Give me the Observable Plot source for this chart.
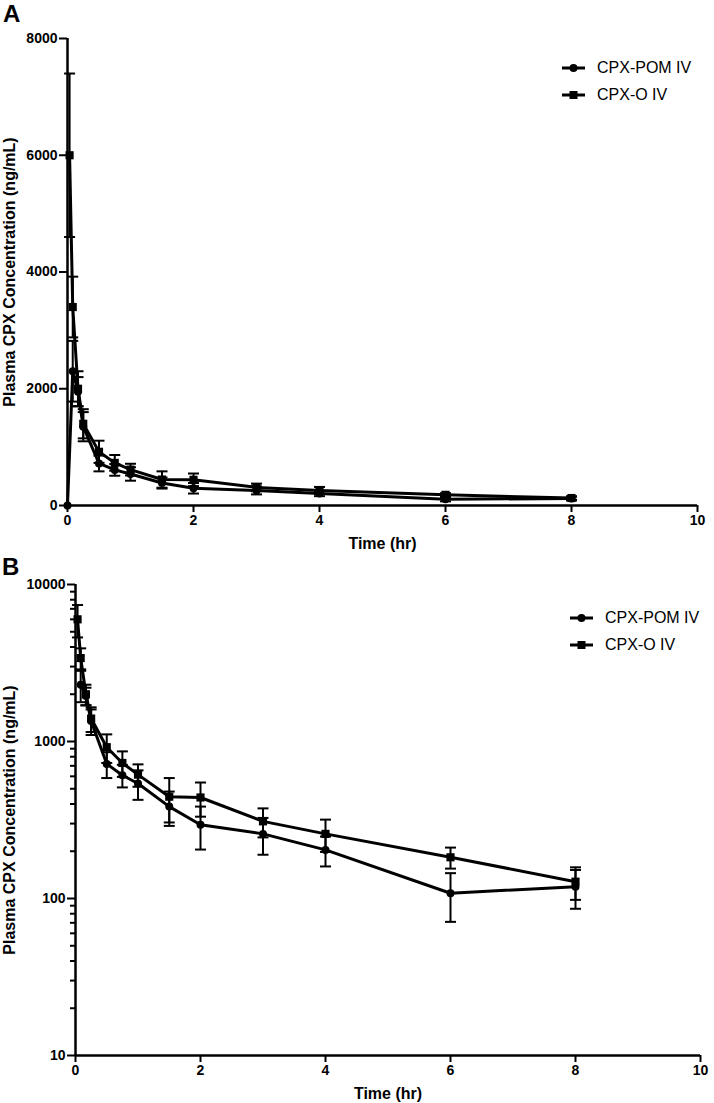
<!DOCTYPE html>
<html><head><meta charset="utf-8">
<script src="https://cdn.jsdelivr.net/npm/d3@7"></script>
<script src="https://cdn.jsdelivr.net/npm/@observablehq/plot@0.6"></script>
<style>
body{margin:0;background:#fff;}
#wrap{position:relative;width:714px;height:1103px;font-family:"Liberation Sans",Arial,Helvetica,sans-serif;color:#000;}
.letter{position:absolute;font-weight:bold;font-size:24px;line-height:1;}
.legend{position:absolute;font-size:16px;}
.legend .row{display:flex;align-items:center;height:27px;}
.legend svg{margin-right:12px;}
#wrap > svg{display:block;}
</style></head><body><div id="wrap"></div>
<script>
// ---- data ----
const seriesNames = ["CPX-POM IV", "CPX-O IV"];
const timesPOM = [0, 0.083, 0.167, 0.25, 0.5, 0.75, 1, 1.5, 2, 3, 4, 6, 8];
const meanPOM  = [0, 2300, 1950, 1350, 720, 610, 540, 385, 295, 258, 204, 108, 119];
const semPOM   = [0, 520, 250, 250, 135, 100, 115, 95, 90, 68, 44, 37, 33];
const timesO   = [0.033, 0.083, 0.167, 0.25, 0.5, 0.75, 1, 1.5, 2, 3, 4, 6, 8];
const meanO    = [6000, 3400, 2000, 1400, 920, 730, 615, 445, 440, 310, 258, 183, 128];
const semO     = [1400, 520, 300, 250, 190, 135, 100, 140, 108, 65, 60, 28, 30];
const xTicks = [0, 2, 4, 6, 8, 10];
const yTicksLin = [0, 2000, 4000, 6000, 8000];
const yTicksLog = [10, 100, 1000, 10000];
const yMinorLog = [20,30,40,50,60,70,80,90,200,300,400,500,600,700,800,900,2000,3000,4000,5000,6000,7000,8000,9000];
const xLabel = "Time (hr)";
const yLabel = "Plasma CPX Concentration (ng/mL)";

const rows = [];
timesPOM.forEach((t, i) => rows.push({series: seriesNames[0], t, mean: meanPOM[i], lo: meanPOM[i] - semPOM[i], hi: meanPOM[i] + semPOM[i]}));
timesO.forEach((t, i) => rows.push({series: seriesNames[1], t, mean: meanO[i], lo: meanO[i] - semO[i], hi: meanO[i] + semO[i]}));

const capSymbol = {draw(ctx, size) { const w = Math.sqrt(size / Math.PI); ctx.moveTo(-w, 0); ctx.lineTo(w, 0); }};
const font = {fontFamily: "Liberation Sans, Arial, Helvetica, sans-serif", fontSize: "14px", fontWeight: "bold", color: "black", background: "white", overflow: "visible"};

function makePanel({data, yType, yDomain, yTicks, minor, height, mt, mb, ml, mr}) {
  const pom = data.filter(d => d.series === seriesNames[0]);
  const cpo = data.filter(d => d.series === seriesNames[1]);
  const marks = [
    Plot.ruleX(data, {x: "t", y1: "lo", y2: "hi", strokeWidth: 2, filter: d => d.hi > d.lo}),
    Plot.dot(data, {x: "t", y: "lo", symbol: capSymbol, r: 5.5, stroke: "black", strokeWidth: 2, filter: d => d.hi > d.lo}),
    Plot.dot(data, {x: "t", y: "hi", symbol: capSymbol, r: 5.5, stroke: "black", strokeWidth: 2, filter: d => d.hi > d.lo}),
    Plot.line(data, {x: "t", y: "mean", z: "series", stroke: "black", strokeWidth: 3}),
    Plot.dot(pom, {x: "t", y: "mean", symbol: "circle", r: 4, fill: "black"}),
    Plot.dot(cpo, {x: "t", y: "mean", symbol: "square", r: 4.6, fill: "black"}),
    Plot.ruleX([xTicks[0]], {y1: yDomain[0], y2: yDomain[1], strokeWidth: 2.5}),
    Plot.ruleY([yDomain[0]], {x1: xTicks[0], x2: xTicks[xTicks.length - 1], strokeWidth: 2.5}),
    Plot.axisX({ticks: xTicks, tickSize: 7, tickPadding: 3, strokeWidth: 2, fontSize: 14, fontWeight: "bold", tickFormat: d => String(d), label: null}),
    Plot.axisY({ticks: yTicks, tickSize: 8, tickPadding: 2, strokeWidth: 2, fontSize: 14, fontWeight: "bold", tickFormat: d => String(d), label: null}),
    Plot.axisX({ticks: [], fontSize: 16, fontWeight: "bold", label: xLabel, labelAnchor: "center", labelArrow: "none", labelOffset: 43}),
    Plot.axisY({ticks: [], fontSize: 16, fontWeight: "bold", label: yLabel, labelAnchor: "center", labelArrow: "none", labelOffset: ml - 3})
  ];
  if (minor) marks.push(Plot.axisY({ticks: minor, tickSize: 5, strokeWidth: 2, tickFormat: () => "", label: null}));
  return Plot.plot({
    width: 714, height, marginTop: mt, marginBottom: mb, marginLeft: ml, marginRight: mr,
    style: font,
    x: {domain: [xTicks[0], xTicks[xTicks.length - 1]]},
    y: {type: yType, domain: yDomain},
    marks
  });
}

const wrap = document.getElementById("wrap");
const svgA = makePanel({data: rows, yType: "linear", yDomain: [0, 8000], yTicks: yTicksLin, minor: null, height: 552, mt: 38, mb: 47, ml: 67, mr: 17});
const svgB = makePanel({data: rows.filter(d => d.mean > 0), yType: "log", yDomain: [10, 10000], yTicks: yTicksLog, minor: yMinorLog, height: 551, mt: 32, mb: 48, ml: 75, mr: 14});
wrap.appendChild(svgA);
wrap.appendChild(svgB);

function addLetter(txt, left, top) {
  const d = document.createElement("div"); d.className = "letter"; d.textContent = txt;
  d.style.left = left + "px"; d.style.top = top + "px"; wrap.appendChild(d);
}
addLetter("A", 3, 2);
addLetter("B", 2, 555);

function addLegend(left, top) {
  const lg = document.createElement("div"); lg.className = "legend";
  lg.style.left = left + "px"; lg.style.top = top + "px";
  seriesNames.forEach((name, i) => {
    const row = document.createElement("div"); row.className = "row";
    const marker = i === 0 ? '<circle cx="11.5" cy="6" r="4" fill="black"/>' : '<rect x="7.5" y="2" width="8" height="8" fill="black"/>';
    row.innerHTML = '<svg width="23" height="12"><line x1="0" x2="23" y1="6" y2="6" stroke="black" stroke-width="3"/>' + marker + '</svg><span>' + name + '</span>';
    lg.appendChild(row);
  });
  wrap.appendChild(lg);
}
addLegend(562, 54);
addLegend(570, 604);
</script>
</body></html>
